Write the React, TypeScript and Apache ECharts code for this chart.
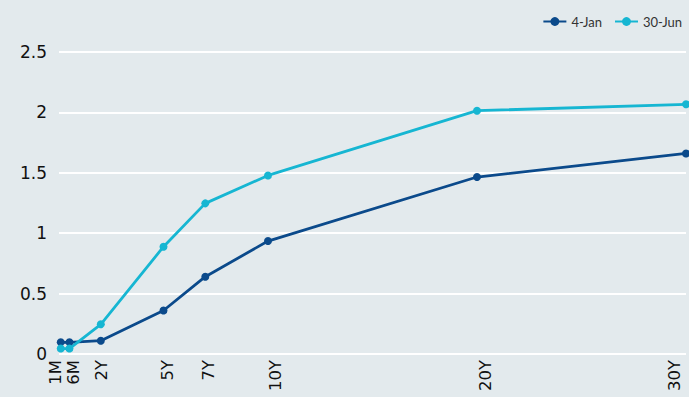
import React, { useEffect, useRef } from "react";
import * as echarts from "echarts";

const tenors = ["1M", "6M", "2Y", "5Y", "7Y", "10Y", "20Y", "30Y"];
const tenorYears = [1 / 12, 0.5, 2, 5, 7, 10, 20, 30];
const jan4 = [0.097, 0.097, 0.11, 0.36, 0.64, 0.935, 1.465, 1.66];
const jun30 = [0.045, 0.045, 0.246, 0.888, 1.247, 1.478, 2.014, 2.067];
const yTicks = [0, 0.5, 1, 1.5, 2, 2.5];

// horizontal nudge of each rotated tick label (px, + = right)
const labelNudge = [-5, 4, 1, 4, 3, 7, 8, -12];
// label groups drawn on separate (overlaid) axes so close labels are not hidden
const labelGroups = [[2, 3, 4, 5, 6, 7], [0], [1]];

const DARK = "#0b4a8b";
const CYAN = "#16b6d2";
const FONT = "DejaVu Sans";

export default function App() {
  const ref = useRef<HTMLDivElement>(null);
  useEffect(() => {
    if (!ref.current) return;
    const chart = echarts.init(ref.current, undefined, { renderer: "svg" });
    const idxOf = (v: number) => tenorYears.findIndex((t) => Math.abs(t - v) < 1e-6);
    const rich: Record<string, any> = {};
    labelNudge.forEach((d, i) => {
      rich["t" + i] = {
        fontFamily: FONT,
        fontSize: 16.5,
        color: "#111",
        padding: d >= 0 ? [2 * d, 0, 0, 0] : [0, 0, -2 * d, 0],
      };
    });
    const makeAxis = (group: number[]) => ({
      type: "value",
      position: "bottom",
      offset: 0,
      min: 0,
      max: 30,
      axisLine: { show: false },
      axisTick: { show: false },
      splitLine: { show: false },
      axisLabel: {
        customValues: group.map((i) => tenorYears[i]),
        rotate: 90,
        margin: 6,
        showMinLabel: true,
        showMaxLabel: true,
        hideOverlap: false,
        fontFamily: FONT,
        fontSize: 16.5,
        color: "#111",
        rich,
        formatter: (v: number) => {
          const i = idxOf(v);
          return i >= 0 ? "{t" + i + "|" + tenors[i] + "}" : "";
        },
      },
    });
    chart.setOption({
      animation: false,
      backgroundColor: "#e3eaed",
      legend: {
        right: 2,
        top: 10,
        itemWidth: 23,
        itemHeight: 11,
        itemGap: 12,
        textStyle: { fontFamily: "Lato", fontSize: 13, color: "#333" },
        data: ["4-Jan", "30-Jun"],
      },
      grid: { left: 59, right: 3, top: 52, bottom: 43 },
      xAxis: labelGroups.map(makeAxis),
      yAxis: {
        type: "value",
        min: 0,
        max: 2.5,
        interval: 0.5,
        axisLine: { show: false },
        axisTick: { show: false },
        splitLine: { show: true, lineStyle: { color: "#ffffff", width: 2 } },
        axisLabel: {
          margin: 12,
          fontFamily: FONT,
          fontSize: 17,
          color: "#111",
          formatter: (v: number) => (yTicks.includes(v) ? String(v) : ""),
        },
      },
      series: [
        {
          name: "4-Jan",
          type: "line",
          xAxisIndex: 0,
          data: tenorYears.map((x, i) => [x, jan4[i]]),
          color: DARK,
          lineStyle: { width: 2.8, color: DARK },
          symbol: "circle",
          symbolSize: 8,
          itemStyle: { color: DARK },
        },
        {
          name: "30-Jun",
          type: "line",
          xAxisIndex: 0,
          data: tenorYears.map((x, i) => [x, jun30[i]]),
          color: CYAN,
          lineStyle: { width: 2.8, color: CYAN },
          symbol: "circle",
          symbolSize: 8,
          itemStyle: { color: CYAN },
        },
      ],
    });
    return () => chart.dispose();
  }, []);
  return <div ref={ref} style={{ width: 689, height: 397, position: "fixed", left: 0, top: 0 }} />;
}
